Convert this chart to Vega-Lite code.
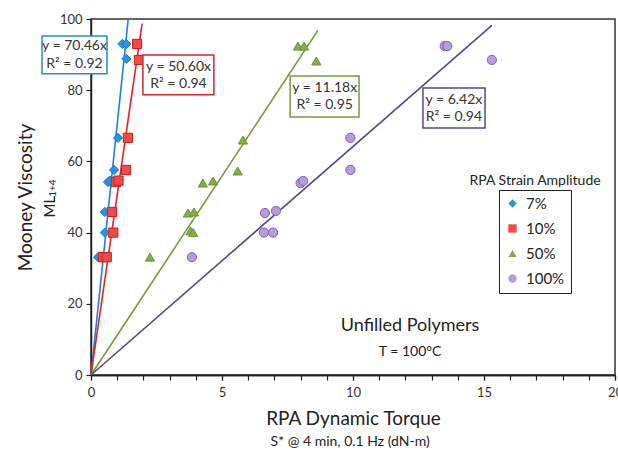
{
  "$schema": "https://vega.github.io/schema/vega-lite/v6.json",
  "autosize": "none",
  "width": 524,
  "height": 356,
  "padding": {"left": 91, "top": 19, "right": 3, "bottom": 80},
  "background": "white",
  "config": {
    "font": "Lato",
    "view": {"stroke": "#333", "strokeWidth": 1.5},
    "axis": {"grid": false, "domainColor": "#222", "domainWidth": 1.5, "tickColor": "#222", "tickWidth": 1.2, "labelColor": "#333", "labelFontSize": 13, "labelFont": "Lato", "titleFont": "Lato", "titleColor": "#222", "titleFontWeight": "normal"},
    "legend": {"strokeColor": "#222", "padding": 6, "labelFontSize": 15, "labelColor": "#222", "labelFont": "Lato", "symbolSize": 70, "rowPadding": 9, "symbolStrokeWidth": 1, "labelOffset": 6, "fillColor": "white"}
  },
  "datasets": {
    "pts": [
      {"torque": 1.2, "mooney": 93, "strain": "7%"},
      {"torque": 1.35, "mooney": 93, "strain": "7%"},
      {"torque": 1.35, "mooney": 88.8, "strain": "7%"},
      {"torque": 1.03, "mooney": 66.6, "strain": "7%"},
      {"torque": 0.88, "mooney": 57.6, "strain": "7%"},
      {"torque": 0.65, "mooney": 54.2, "strain": "7%"},
      {"torque": 0.72, "mooney": 54.6, "strain": "7%"},
      {"torque": 0.53, "mooney": 45.8, "strain": "7%"},
      {"torque": 0.53, "mooney": 40, "strain": "7%"},
      {"torque": 0.27, "mooney": 33.1, "strain": "7%"},
      {"torque": 1.76, "mooney": 93, "strain": "10%"},
      {"torque": 1.83, "mooney": 88.5, "strain": "10%"},
      {"torque": 1.41, "mooney": 66.6, "strain": "10%"},
      {"torque": 1.34, "mooney": 57.6, "strain": "10%"},
      {"torque": 0.95, "mooney": 54.2, "strain": "10%"},
      {"torque": 1.05, "mooney": 54.6, "strain": "10%"},
      {"torque": 0.8, "mooney": 45.8, "strain": "10%"},
      {"torque": 0.85, "mooney": 40, "strain": "10%"},
      {"torque": 0.46, "mooney": 33.1, "strain": "10%"},
      {"torque": 0.6, "mooney": 33.1, "strain": "10%"},
      {"torque": 7.9, "mooney": 92.4, "strain": "50%"},
      {"torque": 8.13, "mooney": 92.4, "strain": "50%"},
      {"torque": 8.6, "mooney": 88.2, "strain": "50%"},
      {"torque": 5.8, "mooney": 66, "strain": "50%"},
      {"torque": 5.6, "mooney": 57.3, "strain": "50%"},
      {"torque": 4.27, "mooney": 53.9, "strain": "50%"},
      {"torque": 4.66, "mooney": 54.5, "strain": "50%"},
      {"torque": 3.7, "mooney": 45.5, "strain": "50%"},
      {"torque": 3.93, "mooney": 45.8, "strain": "50%"},
      {"torque": 3.8, "mooney": 40.5, "strain": "50%"},
      {"torque": 3.9, "mooney": 40, "strain": "50%"},
      {"torque": 2.25, "mooney": 33.1, "strain": "50%"},
      {"torque": 13.5, "mooney": 92.4, "strain": "100%"},
      {"torque": 13.6, "mooney": 92.4, "strain": "100%"},
      {"torque": 15.3, "mooney": 88.5, "strain": "100%"},
      {"torque": 9.9, "mooney": 66.6, "strain": "100%"},
      {"torque": 9.9, "mooney": 57.6, "strain": "100%"},
      {"torque": 8.0, "mooney": 53.9, "strain": "100%"},
      {"torque": 8.1, "mooney": 54.5, "strain": "100%"},
      {"torque": 6.64, "mooney": 45.5, "strain": "100%"},
      {"torque": 7.06, "mooney": 46.1, "strain": "100%"},
      {"torque": 6.6, "mooney": 40, "strain": "100%"},
      {"torque": 6.95, "mooney": 40, "strain": "100%"},
      {"torque": 3.85, "mooney": 33.1, "strain": "100%"}
    ],
    "fits": [
      {"strain": "7%", "torque": 0, "mooney": 0},
      {"strain": "7%", "torque": 1.42, "mooney": 100},
      {"strain": "10%", "torque": 0, "mooney": 0},
      {"strain": "10%", "torque": 1.95, "mooney": 98.7},
      {"strain": "50%", "torque": 0, "mooney": 0},
      {"strain": "50%", "torque": 8.66, "mooney": 96.8},
      {"strain": "100%", "torque": 0, "mooney": 0},
      {"strain": "100%", "torque": 15.3, "mooney": 98.2}
    ],
    "notes": [
      {"strain": "7%", "x1": -1.87, "x2": 0.61, "y1": 95.2, "y2": 84.6, "tx": -0.63, "ty1": 92.3, "ty2": 87.4, "eq": "y = 70.46x", "r2": "R² = 0.92"},
      {"strain": "10%", "x1": 1.98, "x2": 4.69, "y1": 89.9, "y2": 78.7, "tx": 3.34, "ty1": 86.4, "ty2": 81.7, "eq": "y = 50.60x", "r2": "R² = 0.94"},
      {"strain": "50%", "x1": 7.6, "x2": 10.23, "y1": 84.0, "y2": 72.5, "tx": 8.92, "ty1": 80.6, "ty2": 75.9, "eq": "y = 11.18x", "r2": "R² = 0.95"},
      {"strain": "100%", "x1": 12.67, "x2": 15.04, "y1": 80.6, "y2": 69.4, "tx": 13.85, "ty1": 77.2, "ty2": 72.5, "eq": "y = 6.42x", "r2": "R² = 0.94"}
    ],
    "labels": [
      {"x": 16.95, "y": 54.5, "txt": "RPA Strain Amplitude", "size": 14},
      {"x": 12.18, "y": 13.8, "txt": "Unfilled Polymers", "size": 18},
      {"x": 12.18, "y": 6.5, "txt": "T = 100°C", "size": 14},
      {"x": 9.89, "y": -18.8, "txt": "S* @ 4 min, 0.1 Hz (dN-m)", "size": 14}
    ],
    "ylab": [
      {"x": -1.58, "y": 47.3, "txt": "ML", "size": 15},
      {"x": -1.45, "y": 52.5, "txt": "1+4", "size": 10}
    ]
  },
  "resolve": {"scale": {"stroke": "independent"}, "legend": {"stroke": "independent"}, "axis": {"x": "independent"}},
  "layer": [
    {
      "data": {"name": "fits"},
      "mark": {"type": "line", "strokeWidth": 1.6},
      "encoding": {
        "x": {"field": "torque", "type": "quantitative", "scale": {"domain": [0, 20], "nice": false},
          "axis": {"orient": "bottom", "values": [0,1,2,3,4,5,6,7,8,9,10,11,12,13,14,15,16,17,18,19,20], "labels": false, "tickSize": 5, "title": null}},
        "y": {"field": "mooney", "type": "quantitative", "scale": {"domain": [0, 100], "nice": false},
          "axis": {"values": [0,10,20,30,40,50,60,70,80,90,100], "labelExpr": "datum.value % 20 === 0 ? datum.label : ''", "labelFlush": false, "tickSize": 5, "labelPadding": 4, "title": "Mooney Viscosity", "titleFontSize": 19, "titlePadding": 24}},
        "stroke": {"field": "strain", "type": "nominal", "legend": null,
          "scale": {"domain": ["7%", "10%", "50%", "100%"], "range": ["#1f7fd6", "#e0242a", "#77993a", "#56478a"]}},
        "detail": {"field": "strain"}
      }
    },
    {
      "data": {"name": "pts"},
      "mark": {"type": "point", "filled": true, "opacity": 1, "strokeWidth": 1, "size": 85},
      "encoding": {
        "x": {"field": "torque", "type": "quantitative",
          "axis": {"orient": "bottom", "values": [0, 5, 10, 15, 20], "labelFlush": false, "labelOverlap": false, "tickSize": 5, "labelPadding": 6, "title": "RPA Dynamic Torque", "titleFontSize": 19, "titlePadding": 10}},
        "y": {"field": "mooney", "type": "quantitative"},
        "color": {"field": "strain", "type": "nominal", "title": null,
          "scale": {"domain": ["7%", "10%", "50%", "100%"], "range": ["#2596e0", "#f24a4a", "#8aab4c", "#b39ddb"]},
          "legend": {"orient": "none", "legendX": 408, "legendY": 171}},
        "shape": {"field": "strain", "type": "nominal", "title": null,
          "scale": {"domain": ["7%", "10%", "50%", "100%"], "range": ["diamond", "square", "triangle-up", "circle"]},
          "legend": {"orient": "none", "legendX": 408, "legendY": 171}},
        "stroke": {"field": "strain", "type": "nominal", "legend": null,
          "scale": {"domain": ["7%", "10%", "50%", "100%"], "range": ["#1a78c2", "#c81e1e", "#6f8f34", "#7e62b0"]}}
      }
    },
    {
      "data": {"name": "notes"},
      "mark": {"type": "rect", "fill": "white", "strokeWidth": 1.5},
      "encoding": {
        "x": {"field": "x1", "type": "quantitative", "axis": null},
        "x2": {"field": "x2"},
        "y": {"field": "y1", "type": "quantitative"},
        "y2": {"field": "y2"},
        "stroke": {"field": "strain", "type": "nominal", "legend": null,
          "scale": {"domain": ["7%", "10%", "50%", "100%"], "range": ["#2a86d6", "#d0242a", "#77993a", "#56478a"]}}
      }
    },
    {
      "data": {"name": "notes"},
      "mark": {"type": "text", "fontSize": 14, "color": "#333", "baseline": "middle"},
      "encoding": {
        "x": {"field": "tx", "type": "quantitative", "axis": null},
        "y": {"field": "ty1", "type": "quantitative"},
        "text": {"field": "eq"}
      }
    },
    {
      "data": {"name": "notes"},
      "mark": {"type": "text", "fontSize": 14, "color": "#333", "baseline": "middle"},
      "encoding": {
        "x": {"field": "tx", "type": "quantitative", "axis": null},
        "y": {"field": "ty2", "type": "quantitative"},
        "text": {"field": "r2"}
      }
    },
    {
      "data": {"name": "labels"},
      "mark": {"type": "text", "color": "#222", "baseline": "middle"},
      "encoding": {
        "x": {"field": "x", "type": "quantitative", "axis": null},
        "y": {"field": "y", "type": "quantitative"},
        "text": {"field": "txt"},
        "size": {"field": "size", "type": "quantitative", "scale": null, "legend": null}
      }
    },
    {
      "data": {"name": "ylab"},
      "mark": {"type": "text", "color": "#222", "angle": 270, "baseline": "middle"},
      "encoding": {
        "x": {"field": "x", "type": "quantitative", "axis": null},
        "y": {"field": "y", "type": "quantitative"},
        "text": {"field": "txt"},
        "size": {"field": "size", "type": "quantitative", "scale": null, "legend": null}
      }
    }
  ]
}
